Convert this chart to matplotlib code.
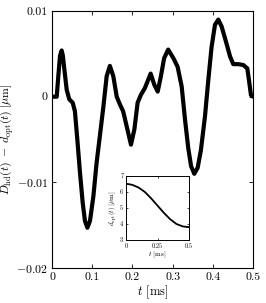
import matplotlib
matplotlib.use("Agg")
import matplotlib.pyplot as plt

plt.rcParams['font.family'] = 'serif'
plt.rcParams['font.serif'] = ['cmr10', 'DejaVu Serif']
plt.rcParams['mathtext.fontset'] = 'cm'
plt.rcParams['axes.formatter.use_mathtext'] = True

# main curve: D_hd(t) - d_opt(t)  [um], t in ms
t_main = [0.0, 0.0117, 0.0157, 0.020, 0.024, 0.027, 0.030, 0.0366, 0.043, 0.0515,
          0.057, 0.063, 0.0697, 0.0764, 0.082, 0.088, 0.0945, 0.103, 0.111, 0.118,
          0.128, 0.136, 0.144, 0.1525, 0.161, 0.169, 0.177, 0.186, 0.1965, 0.205,
          0.213, 0.221, 0.231, 0.2455, 0.2545, 0.263, 0.271, 0.279, 0.289, 0.302,
          0.3125, 0.3226, 0.331, 0.339, 0.346, 0.354, 0.3624, 0.3706, 0.3806, 0.389,
          0.397, 0.4055, 0.4137, 0.422, 0.433, 0.443, 0.451, 0.4634, 0.476, 0.486,
          0.491, 0.495, 0.500]
v_main = [0.0, 0.0, 0.0024, 0.0048, 0.0054, 0.0048, 0.0035, 0.0008, -0.0003, -0.0007,
          -0.0017, -0.0050, -0.0089, -0.0124, -0.0145, -0.0153, -0.0145, -0.0116, -0.0077, -0.0050,
          -0.0011, 0.0024, 0.0036, 0.0024, 0.0, -0.0009, -0.0017, -0.0035, -0.0056, -0.0038,
          -0.0007, 0.0002, 0.0010, 0.0027, 0.0014, 0.0006, 0.0024, 0.0045, 0.0055, 0.0045,
          0.0035, 0.0012, -0.0027, -0.0060, -0.0081, -0.0090, -0.0083, -0.0062, -0.0023, 0.0020,
          0.0058, 0.0084, 0.0090, 0.0082, 0.0064, 0.0047, 0.0038, 0.0038, 0.0037, 0.0033,
          0.0016, 0.0002, 0.0]

# inset curve: d_opt(t) [um]
t_inset = [0.0, 0.05, 0.10, 0.15, 0.20, 0.25, 0.30, 0.35, 0.40, 0.45, 0.50]
d_inset = [6.52, 6.45, 6.28, 6.0, 5.6, 5.15, 4.7, 4.3, 4.0, 3.85, 3.8]

main_xticks = [0, 0.1, 0.2, 0.3, 0.4, 0.5]
main_xlabels = ['0', '0.1', '0.2', '0.3', '0.4', '0.5']
main_yticks = [0.01, 0, -0.01, -0.02]
main_ylabels = ['0.01', '0', r'$-$0.01', r'$-$0.02']
inset_xticks = [0, 0.25, 0.5]
inset_xlabels = ['0', '0.25', '0.5']
inset_yticks = [3, 4, 5, 6, 7]
inset_ylabels = ['3', '4', '5', '6', '7']

fig = plt.figure(figsize=(2.66, 3.03), dpi=100)
ax = fig.add_axes([0.1955, 0.1155, 0.7555, 0.848])
ax.plot(t_main, v_main, color='black', lw=3, solid_joinstyle='round', solid_capstyle='round')
ax.set_xlim(0, 0.5)
ax.set_ylim(-0.02, 0.01)
ax.set_xticks(main_xticks)
ax.set_xticklabels(main_xlabels)
ax.set_yticks(main_yticks)
ax.set_yticklabels(main_ylabels)
ax.tick_params(direction='in', top=True, right=True, labelsize=8.5, length=3, width=0.6, pad=3)
for s in ax.spines.values():
    s.set_linewidth(0.8)
ax.set_xlabel(r'$t$ [ms]', fontsize=9, labelpad=1)
ax.set_ylabel(r'$D_{\rm hd}(t)\;-\;d_{\rm opt}(t)\;[\mu{\rm m}]$', fontsize=8.5, labelpad=0)

ins = fig.add_axes([0.4737, 0.208, 0.237, 0.211])
ins.plot(t_inset, d_inset, color='black', lw=1.3)
ins.set_xlim(0, 0.5)
ins.set_ylim(3, 7)
ins.set_xticks(inset_xticks)
ins.set_xticklabels(inset_xlabels)
ins.set_yticks(inset_yticks)
ins.set_yticklabels(inset_ylabels)
ins.tick_params(direction='in', top=True, right=True, labelsize=4.5, length=1.5, width=0.5, pad=2)
for s in ins.spines.values():
    s.set_linewidth(0.7)
ins.set_xlabel(r'$t$ [ms]', fontsize=5, labelpad=1)
ins.set_ylabel(r'$d_{\rm opt}(t)\;[\mu{\rm m}]$', fontsize=5, labelpad=1)

fig.savefig('out.png', dpi=100)
